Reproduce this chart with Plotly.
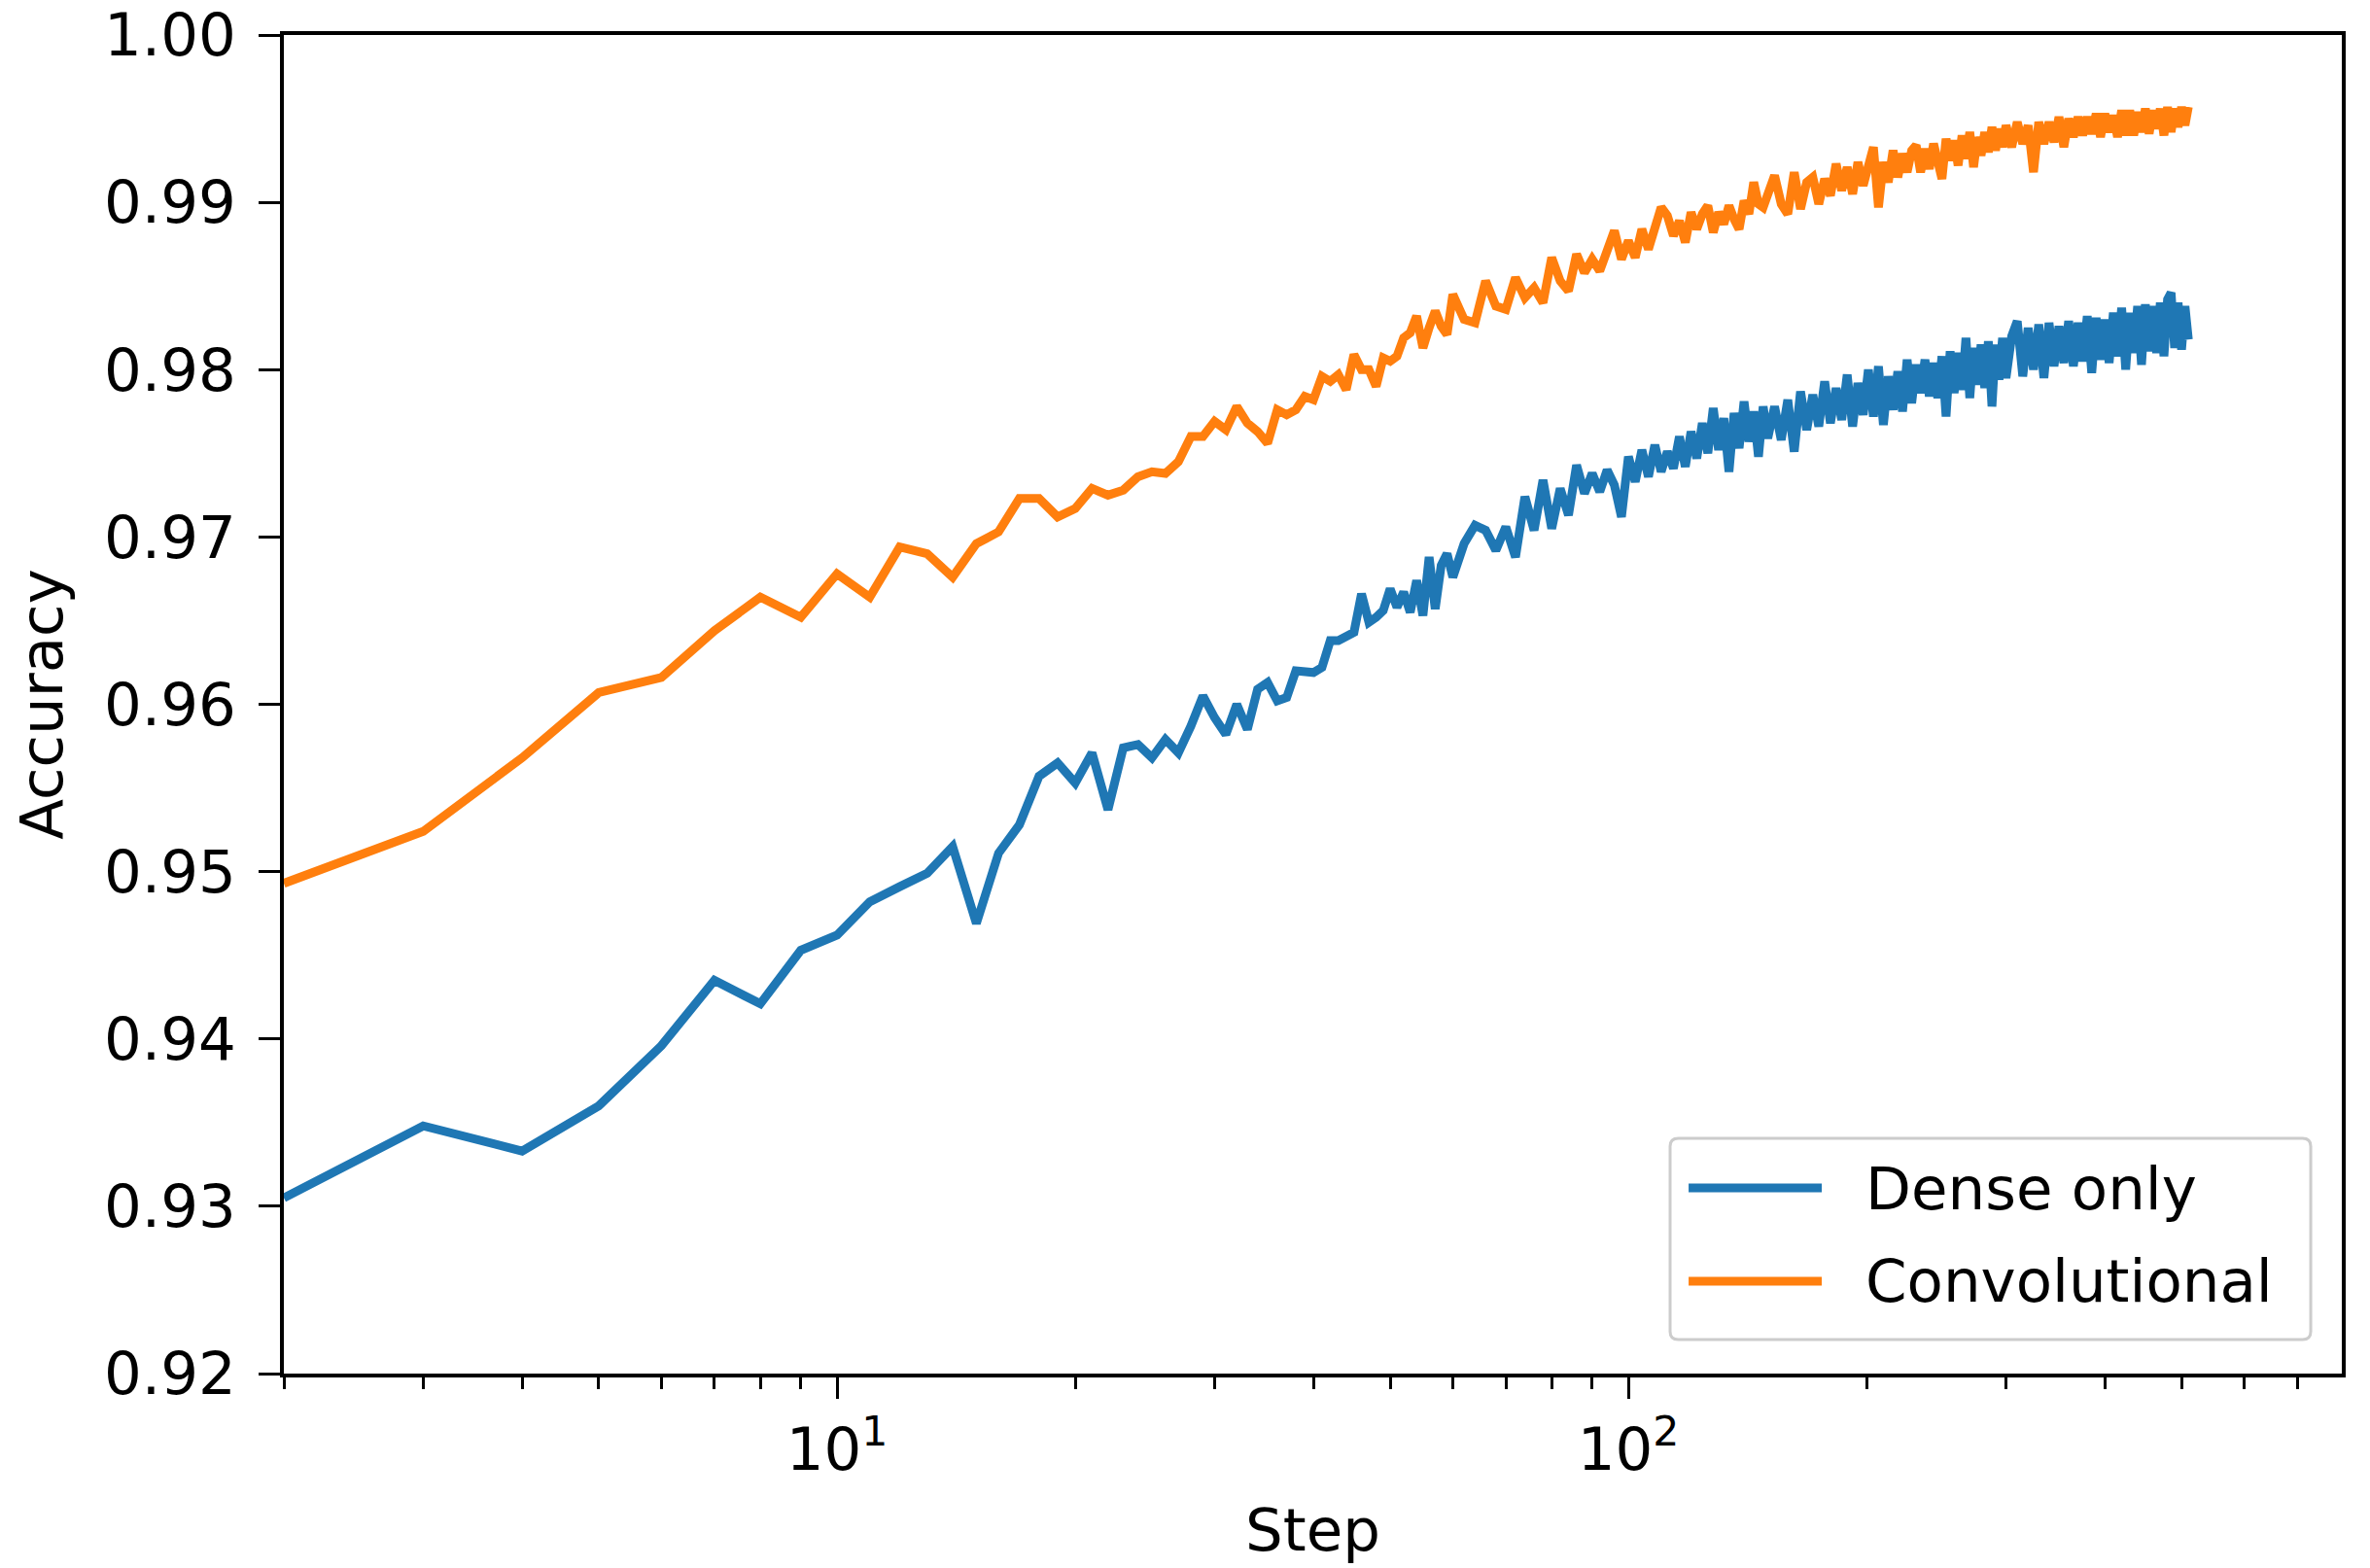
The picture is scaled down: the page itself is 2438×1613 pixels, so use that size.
"""Accuracy vs. training step, dense-only vs. convolutional model."""

import math

import plotly.graph_objects as go

BLUE = "#1f77b4"
ORANGE = "#ff7f0e"
FONT = "DejaVu Sans"

# step grid: every step early on, sparser where the curve gets dense
STEPS = (
    list(range(2, 61))
    + list(range(62, 151, 2))
    + list(range(153, 301, 3))
    + list(range(305, 511, 5))
)

dense_2_60 = [
    0.9305, 0.9348, 0.9333, 0.9360, 0.9396, 0.9435, 0.9421, 0.9453, 0.9462, 0.9482,
    0.9491, 0.9499, 0.9515, 0.9469, 0.9511, 0.9528, 0.9557, 0.9565, 0.9553, 0.9571,
    0.9537, 0.9574, 0.9576, 0.9568, 0.9579, 0.9571, 0.9587, 0.9605, 0.9592, 0.9582,
    0.9600, 0.9585, 0.9609, 0.9613, 0.9602, 0.9604, 0.9620, 0.9620, 0.9619, 0.9622,
    0.9638, 0.9638, 0.9641, 0.9643, 0.9666, 0.9649, 0.9652, 0.9656, 0.9669, 0.9658,
    0.9667, 0.9655, 0.9674, 0.9653, 0.9688, 0.9657, 0.9683, 0.9690, 0.9676,
]
dense_62_150 = [
    0.9696, 0.9707, 0.9704, 0.9692, 0.9706, 0.9688, 0.9724, 0.9704, 0.9734, 0.9705,
    0.9729, 0.9713, 0.9743, 0.9726, 0.9738, 0.9727, 0.9740, 0.9731, 0.9712, 0.9748,
    0.9733, 0.9752, 0.9736, 0.9755, 0.9739, 0.9751, 0.9741, 0.9760, 0.9742, 0.9763,
    0.9747, 0.9768, 0.9750, 0.9777, 0.9752, 0.9771, 0.9739, 0.9774, 0.9753, 0.9781,
    0.9757, 0.9775, 0.9748, 0.9778, 0.9759,
]
dense_153_300 = [
    0.9778, 0.9758, 0.9782, 0.9751, 0.9787, 0.9764, 0.9785, 0.9766, 0.9793, 0.9768,
    0.9789, 0.9770, 0.9797, 0.9766, 0.9792, 0.9773, 0.9800, 0.9772, 0.9802, 0.9767,
    0.9796, 0.9776, 0.9799, 0.9775, 0.9806, 0.9780, 0.9803, 0.9786, 0.9806, 0.9784,
    0.9804, 0.9783, 0.9808, 0.9772, 0.9811, 0.9786, 0.9810, 0.9788, 0.9819, 0.9783,
    0.9813, 0.9791, 0.9815, 0.9789, 0.9817, 0.9778, 0.9815, 0.9794, 0.9819, 0.9795,
]
dense_305_510 = [
    0.9820, 0.9829, 0.9796, 0.9825, 0.9800, 0.9827, 0.9795, 0.9828, 0.9802, 0.9826,
    0.9804, 0.9829, 0.9802, 0.9828, 0.9805, 0.9832, 0.9798, 0.9831, 0.9806, 0.9830,
    0.9804, 0.9834, 0.9808, 0.9837, 0.9800, 0.9834, 0.9810, 0.9838, 0.9803, 0.9839,
    0.9811, 0.9838, 0.9810, 0.9840, 0.9808, 0.9842, 0.9846, 0.9813, 0.9840, 0.9812,
    0.9838, 0.9818,
]

conv_2_60 = [
    0.9493, 0.9524, 0.9568, 0.9607, 0.9616, 0.9644, 0.9664, 0.9652, 0.9678, 0.9664,
    0.9694, 0.9690, 0.9676, 0.9696, 0.9703, 0.9723, 0.9723, 0.9712, 0.9717, 0.9729,
    0.9725, 0.9728, 0.9736, 0.9739, 0.9738, 0.9745, 0.9760, 0.9760, 0.9769, 0.9764,
    0.9778, 0.9768, 0.9763, 0.9756, 0.9776, 0.9773, 0.9776, 0.9784, 0.9782, 0.9796,
    0.9793, 0.9797, 0.9788, 0.9809, 0.9800, 0.9800, 0.9790, 0.9807, 0.9805, 0.9808,
    0.9819, 0.9822, 0.9832, 0.9813, 0.9825, 0.9835, 0.9826, 0.9821, 0.9845,
]
conv_62_150 = [
    0.9830, 0.9828, 0.9853, 0.9838, 0.9836, 0.9855, 0.9843, 0.9849, 0.9840, 0.9867,
    0.9853, 0.9847, 0.9869, 0.9858, 0.9866, 0.9859, 0.9873, 0.9883, 0.9866, 0.9877,
    0.9867, 0.9884, 0.9872, 0.9886, 0.9897, 0.9892, 0.9880, 0.9889, 0.9876, 0.9894,
    0.9884, 0.9893, 0.9898, 0.9882, 0.9894, 0.9887, 0.9898, 0.9890, 0.9884, 0.9901,
    0.9893, 0.9912, 0.9899, 0.9897, 0.9906,
]
conv_153_300 = [
    0.9916, 0.9899, 0.9893, 0.9918, 0.9896, 0.9912, 0.9915, 0.9899, 0.9914, 0.9904,
    0.9923, 0.9907, 0.9921, 0.9905, 0.9924, 0.9910, 0.9922, 0.9933, 0.9897, 0.9924,
    0.9912, 0.9931, 0.9915, 0.9929, 0.9918, 0.9931, 0.9934, 0.9918, 0.9932, 0.9920,
    0.9935, 0.9922, 0.9914, 0.9938, 0.9925, 0.9937, 0.9922, 0.9940, 0.9926, 0.9942,
    0.9921, 0.9939, 0.9928, 0.9942, 0.9930, 0.9945, 0.9931, 0.9944, 0.9933, 0.9946,
]
conv_305_510 = [
    0.9933, 0.9948, 0.9935, 0.9946, 0.9918, 0.9948, 0.9935, 0.9948, 0.9936, 0.9951,
    0.9933, 0.9950, 0.9939, 0.9951, 0.9940, 0.9951, 0.9941, 0.9953, 0.9939, 0.9953,
    0.9942, 0.9952, 0.9939, 0.9955, 0.9940, 0.9955, 0.9940, 0.9954, 0.9942, 0.9956,
    0.9941, 0.9955, 0.9944, 0.9956, 0.9940, 0.9957, 0.9942, 0.9956, 0.9945, 0.9957,
    0.9946, 0.9957,
]

DENSE_ONLY = dense_2_60 + dense_62_150 + dense_153_300 + dense_305_510
CONVOLUTIONAL = conv_2_60 + conv_62_150 + conv_153_300 + conv_305_510
assert len(DENSE_ONLY) == len(STEPS) == len(CONVOLUTIONAL)

Y_TICKS = [0.92, 0.93, 0.94, 0.95, 0.96, 0.97, 0.98, 0.99, 1.00]
X_MAJOR = [10, 100]
X_MAJOR_TEXT = ["10<sup>1</sup>", "10<sup>2</sup>"]
X_MINOR = [2, 3, 4, 5, 6, 7, 8, 9, 20, 30, 40, 50, 60, 70, 80, 90,
           200, 300, 400, 500, 600, 700]
SERIES_NAMES = ["Dense only", "Convolutional"]

fig = go.Figure()
for name, values, color in zip(SERIES_NAMES, [DENSE_ONLY, CONVOLUTIONAL], [BLUE, ORANGE]):
    fig.add_trace(
        go.Scatter(
            x=STEPS,
            y=values,
            mode="lines",
            name=name,
            line={"color": color, "width": 9},
            showlegend=False,
        )
    )

axis_common = dict(
    showgrid=False,
    zeroline=False,
    showline=True,
    linecolor="black",
    linewidth=4,
    mirror=True,
    ticks="outside",
    ticklen=22,
    tickwidth=3,
    tickcolor="black",
    automargin=False,
    ticklabeloverflow="allow",
    tickfont={"family": FONT, "size": 61, "color": "black"},
)

fig.update_xaxes(
    type="log",
    range=[math.log10(2), math.log10(797)],
    tickmode="array",
    tickvals=X_MAJOR,
    ticktext=X_MAJOR_TEXT,
    minor={"ticks": "outside", "ticklen": 12, "tickwidth": 3, "tickcolor": "black",
           "tickmode": "array", "tickvals": X_MINOR},
    title={"text": "Step", "font": {"family": FONT, "size": 61, "color": "black"}, "standoff": 28},
    **axis_common,
)
fig.update_yaxes(
    range=[0.92, 1.00],
    tickmode="array",
    tickvals=Y_TICKS,
    ticktext=[f"{v:.2f}" for v in Y_TICKS],
    ticklabelstandoff=11,
    title={"text": "Accuracy", "font": {"family": FONT, "size": 61, "color": "black"}, "standoff": 24},
    **axis_common,
)

# matplotlib-style legend box, drawn by hand so the line samples are long
x0, x1, y0, y1 = 0.6736, 0.9849, 0.0254, 0.1757
rx, ry = 0.004, 0.006
box_path = (
    f"M {x0 + rx},{y0} L {x1 - rx},{y0} Q {x1},{y0} {x1},{y0 + ry} "
    f"L {x1},{y1 - ry} Q {x1},{y1} {x1 - rx},{y1} "
    f"L {x0 + rx},{y1} Q {x0},{y1} {x0},{y1 - ry} "
    f"L {x0},{y0 + ry} Q {x0},{y0} {x0 + rx},{y0} Z"
)
fig.add_shape(type="path", path=box_path, xref="paper", yref="paper",
              line={"color": "#cccccc", "width": 3}, fillcolor="rgba(255,255,255,0.8)", layer="above")
for name, color, ly in zip(SERIES_NAMES, [BLUE, ORANGE], [0.1387, 0.0690]):
    fig.add_shape(type="line", xref="paper", yref="paper", x0=0.6826, x1=0.7473, y0=ly, y1=ly,
                  line={"color": color, "width": 9}, layer="above")
    fig.add_annotation(text=name, xref="paper", yref="paper", x=0.7675, y=ly,
                       xanchor="left", yanchor="middle", showarrow=False,
                       font={"family": FONT, "size": 61, "color": "black"})

fig.update_layout(
    width=2438,
    height=1613,
    margin={"l": 292, "r": 29, "t": 36, "b": 200},
    plot_bgcolor="white",
    paper_bgcolor="white",
    font={"family": FONT, "size": 61, "color": "black"},
    showlegend=False,
)

# drop the default 8px body margin so the figure fills the window exactly
fig.write_html(
    "out.html",
    config={"displayModeBar": False},
    post_script="document.body.style.margin = '0';",
)
